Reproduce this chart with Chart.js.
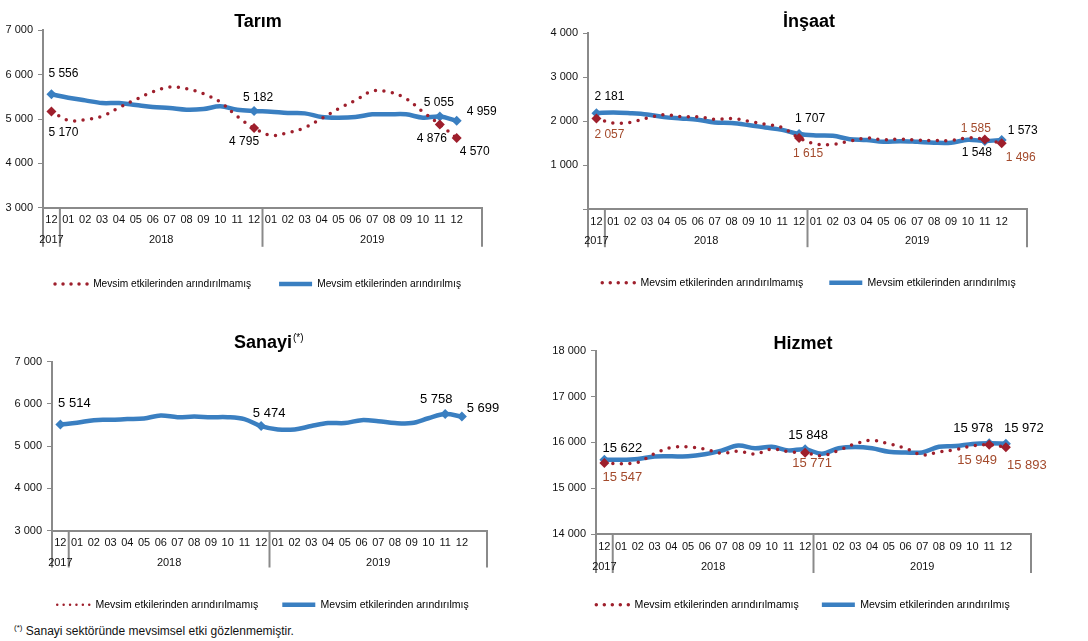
<!DOCTYPE html>
<html lang="tr">
<head>
<meta charset="utf-8">
<title>Sektörlere göre istihdam</title>
<script src="https://cdn.jsdelivr.net/npm/chart.js@4.4.1/dist/chart.umd.min.js"></script>
<style>
  body { margin: 0; background: #fff; font-family: "Liberation Sans", Arial, sans-serif; }
  #page { position: relative; width: 1088px; height: 641px; overflow: hidden; background: #fff; }
  canvas { position: absolute; }
  #note { position: absolute; left: 14px; top: 623px; font-size: 12px; color: #111; white-space: nowrap; }
  #note span { font-size: 8px; vertical-align: 5px; }
</style>
</head>
<body>
<div id="page">
  <canvas id="tarim" width="516" height="299" style="left:0;top:0"></canvas>
  <canvas id="insaat" width="530" height="298" style="left:544px;top:0"></canvas>
  <canvas id="sanayi" width="526" height="300" style="left:0;top:320px"></canvas>
  <canvas id="hizmet" width="518" height="300" style="left:544px;top:320px"></canvas>
  <div id="note"><span>(*)</span> Sanayi sektöründe mevsimsel etki gözlenmemiştir.</div>
</div>
<script>
var family = '"Liberation Sans", Arial, sans-serif';
Chart.defaults.font.family = family;
Chart.defaults.color = '#000';

// x axis: Dec 2017 .. Dec 2019, one empty slot at the end like the original
var months = ['12', '01', '02', '03', '04', '05', '06', '07', '08', '09', '10', '11', '12',
              '01', '02', '03', '04', '05', '06', '07', '08', '09', '10', '11', '12', ''];
var years = ['2017', '2018', '2019'];
var yearStart = [0, 1, 13];
var legendNames = ['Mevsim etkilerinden arındırılmamış', 'Mevsim etkilerinden arındırılmış'];
var marked = [0, 12, 23, 24];

// thousand persons
var tarimRaw = [5170, 4970, 4985, 5060, 5255, 5440, 5610, 5720, 5680, 5570, 5380, 5060, 4795,
                4630, 4690, 4805, 5010, 5230, 5420, 5630, 5610, 5460, 5160, 4876, 4570];
var tarimAdj = [5556, 5479, 5419, 5360, 5360, 5315, 5270, 5247, 5210, 5225, 5285, 5210, 5182,
                5165, 5135, 5127, 5045, 5030, 5045, 5105, 5105, 5105, 5030, 5055, 4959];
var insaatRaw = [2057, 1955, 1970, 2070, 2145, 2100, 2100, 2040, 2060, 2000, 1930, 1855, 1615,
                 1480, 1470, 1545, 1615, 1575, 1590, 1570, 1560, 1560, 1620, 1585, 1496];
var insaatAdj = [2181, 2197, 2180, 2150, 2090, 2060, 2030, 1970, 1955, 1910, 1855, 1800, 1707,
                 1675, 1665, 1590, 1570, 1530, 1545, 1530, 1510, 1510, 1575, 1548, 1573];
var sanayiAdj = [5514, 5552, 5615, 5623, 5640, 5655, 5725, 5685, 5700, 5685, 5685, 5640, 5474,
                 5395, 5395, 5475, 5545, 5545, 5615, 5590, 5545, 5545, 5660, 5758, 5699];
var hizmetRaw = [15547, 15535, 15565, 15755, 15885, 15900, 15855, 15760, 15805, 15745, 15855, 15795, 15771,
                 15710, 15825, 15970, 16045, 15970, 15870, 15725, 15790, 15840, 15925, 15949, 15893];
var hizmetAdj = [15622, 15620, 15637, 15690, 15695, 15695, 15740, 15820, 15930, 15870, 15905, 15825, 15848,
                 15753, 15870, 15900, 15870, 15795, 15780, 15780, 15905, 15920, 15965, 15978, 15972];

var red = '#9e1f2c';
var blue = '#3a7fc1';
var redText = '#a34a2c';
var axisGrey = '#8a8a8a';

function fmt(v) {
    return String(v).replace(/\B(?=(\d{3})+(?!\d))/g, ' ');
}

// year row under the month labels, with the separator lines
var yearRow = {
    id: 'yearRow',
    afterDraw: function(chart, args, opts) {
        var x = chart.scales.x;
        var ctx = chart.ctx;
        var bottom = chart.chartArea.bottom;
        var half = (x.getPixelForValue(1) - x.getPixelForValue(0)) / 2;
        var seps = yearStart.map(function(i) { return x.getPixelForValue(i) - half; });
        seps.push(x.right);
        ctx.save();
        ctx.strokeStyle = axisGrey;
        ctx.lineWidth = 2;
        seps.forEach(function(s) {
            ctx.beginPath();
            ctx.moveTo(s, bottom);
            ctx.lineTo(s, bottom + opts.sepLength);
            ctx.stroke();
        });
        ctx.fillStyle = '#111';
        ctx.font = '11px ' + family;
        ctx.textAlign = 'center';
        ctx.textBaseline = 'middle';
        years.forEach(function(y, k) {
            ctx.fillText(y, (seps[k] + seps[k + 1]) / 2, bottom + opts.yearOffset);
        });
        ctx.restore();
    }
};

// value labels at the marked points
var pointLabels = {
    id: 'pointLabels',
    afterDatasetsDraw: function(chart, args, opts) {
        var ctx = chart.ctx;
        ctx.save();
        ctx.font = opts.size + 'px ' + family;
        ctx.textAlign = 'center';
        ctx.textBaseline = 'middle';
        opts.items.forEach(function(it) {
            var ds = chart.data.datasets[it[0]];
            var pt = chart.getDatasetMeta(it[0]).data[it[1]];
            ctx.fillStyle = it[0] === 0 ? opts.rawColor : '#000';
            ctx.fillText(fmt(ds.data[it[1]]), pt.x + it[2], pt.y + it[3]);
        });
        ctx.restore();
    }
};

// the (*) after "Sanayi"
var titleMark = {
    id: 'titleMark',
    afterDraw: function(chart, args, opts) {
        if (!opts.text) return;
        var t = chart.titleBlock;
        var ctx = chart.ctx;
        ctx.save();
        ctx.font = 'bold 18px ' + family;
        var w = ctx.measureText(t.options.text).width;
        var cx = (t.left + t.right) / 2;
        var cy = t.top + t._padding.top + 8.1;
        ctx.font = '10px ' + family;
        ctx.fillStyle = '#000';
        ctx.textAlign = 'left';
        ctx.textBaseline = 'middle';
        ctx.fillText(opts.text, cx + w / 2 + 1, cy - 5);
        ctx.restore();
    }
};

function lineChart(id, setup) {
    var datasets = setup.series.map(function(s, k) {
        var isRaw = k === 0;
        return {
            label: legendNames[k],
            data: s,
            borderColor: isRaw ? red : blue,
            backgroundColor: isRaw ? red : blue,
            borderWidth: isRaw ? 3.5 : 4.5,
            borderDash: isRaw ? [0, 8.5] : [],
            borderCapStyle: isRaw ? 'round' : 'butt',
            borderJoinStyle: 'round',
            tension: 0.35,
            fill: false,
            pointStyle: 'rectRot',
            pointRadius: function(c) { return marked.indexOf(c.dataIndex) >= 0 ? 5 : 0; },
            pointBorderWidth: 0,
            pointHoverRadius: 0
        };
    });

    return new Chart(document.getElementById(id), {
        type: 'line',
        data: { labels: months, datasets: datasets },
        plugins: [yearRow, pointLabels, titleMark],
        options: {
            responsive: false,
            animation: false,
            events: [],
            layout: { padding: 0 },
            scales: {
                x: {
                    offset: true,
                    grid: { display: false, drawTicks: false },
                    border: { color: axisGrey, width: 2 },
                    ticks: { autoSkip: false, maxRotation: 0, padding: setup.tickPad, font: { size: 11 }, color: '#111' },
                    afterFit: function(s) { s.height = setup.xHeight; }
                },
                y: {
                    min: setup.min,
                    max: setup.max,
                    ticks: {
                        stepSize: 1000,
                        padding: 5,
                        font: { size: 11 },
                        color: '#111',
                        callback: function(v) { return v === 0 ? '' : fmt(v); }
                    },
                    grid: { drawOnChartArea: false, drawTicks: true, tickLength: 5, color: axisGrey },
                    border: { color: axisGrey, width: 2 },
                    afterFit: function(s) { s.width = setup.yWidth; }
                },
                pad: {
                    type: 'linear',
                    position: 'right',
                    ticks: { display: false },
                    grid: { display: false, drawTicks: false },
                    border: { display: false },
                    afterFit: function(s) { s.width = setup.rightGap; }
                }
            },
            plugins: {
                title: {
                    display: true,
                    text: setup.title,
                    color: '#000',
                    font: { size: 18, weight: 'bold', lineHeight: 0.9 },
                    padding: { top: setup.titlePad[0], bottom: setup.titlePad[1] }
                },
                legend: {
                    position: 'bottom',
                    labels: {
                        usePointStyle: true,
                        pointStyle: 'line',
                        pointStyleWidth: 33,
                        padding: setup.legendPad,
                        color: '#000',
                        font: { size: setup.legendSize },
                        generateLabels: function(chart) {
                            return chart.data.datasets.map(function(d, k) {
                                return {
                                    text: d.label,
                                    datasetIndex: k,
                                    hidden: false,
                                    fillStyle: d.borderColor,
                                    strokeStyle: d.borderColor,
                                    fontColor: '#000',
                                    lineWidth: k === 0 ? setup.dots[0] : 4.5,
                                    lineDash: k === 0 ? [0, setup.dots[1]] : [],
                                    lineCap: k === 0 ? 'round' : 'butt',
                                    pointStyle: 'line'
                                };
                            });
                        }
                    }
                },
                tooltip: { enabled: false },
                yearRow: { sepLength: setup.sepLength, yearOffset: setup.yearOffset },
                pointLabels: { items: setup.labels, size: setup.labelSize, rawColor: setup.rawColor },
                titleMark: { text: setup.mark || '' }
            }
        }
    });
}

lineChart('tarim', {
    title: 'Tarım', series: [tarimRaw, tarimAdj], min: 3000, max: 7000,
    titlePad: [14, 0], yWidth: 43, rightGap: 34, xHeight: 43, tickPad: 5.4,
    legendPad: 28, legendSize: 10.2, dots: [3.5, 8],
    sepLength: 39, yearOffset: 32, labelSize: 12, rawColor: '#000',
    labels: [[1, 0, 12, -21], [0, 0, 12, 21], [1, 12, 4, -13], [0, 12, -10, 14],
             [1, 23, -1, -14], [0, 23, -8, 14], [1, 24, 25, -9], [0, 24, 18, 14]]
});

lineChart('insaat', {
    title: 'İnşaat', series: [insaatRaw, insaatAdj], min: 0, max: 4000,
    titlePad: [13.6, 3.2], yWidth: 44, rightGap: 47, xHeight: 42.3, tickPad: 5.7,
    legendPad: 26, legendSize: 10.5, dots: [3.5, 8],
    sepLength: 38, yearOffset: 32, labelSize: 12, rawColor: redText,
    labels: [[1, 0, 13, -16], [0, 0, 13, 16], [1, 12, 11, -15], [0, 12, 9, 16],
             [0, 23, -9, -11], [1, 23, -8, 12], [1, 24, 21, -9], [0, 24, 19, 14]]
});

lineChart('sanayi', {
    title: 'Sanayi', mark: '(*)', series: [[], sanayiAdj], min: 3000, max: 7000,
    titlePad: [15.2, 10.3], yWidth: 52, rightGap: 39, xHeight: 45, tickPad: 5.4,
    legendPad: 24, legendSize: 10.5, dots: [2.5, 6.4],
    sepLength: 37, yearOffset: 32, labelSize: 13, rawColor: redText,
    labels: [[1, 0, 14, -21], [1, 12, 8, -13], [1, 23, -9, -15], [1, 24, 21, -8]]
});

lineChart('hizmet', {
    title: 'Hizmet', series: [hizmetRaw, hizmetAdj], min: 14000, max: 18000,
    titlePad: [15.9, -1.4], yWidth: 52, rightGap: 31, xHeight: 42.4, tickPad: 6.4,
    legendPad: 23, legendSize: 10.6, dots: [3.5, 8],
    sepLength: 39, yearOffset: 33, labelSize: 13, rawColor: redText,
    labels: [[1, 0, 18, -11], [0, 0, 18, 14], [1, 12, 3, -14], [0, 12, 7, 11],
             [1, 23, -16, -15], [0, 23, -12, 16], [1, 24, 18, -15], [0, 24, 21, 18]]
});
</script>
</body>
</html>
